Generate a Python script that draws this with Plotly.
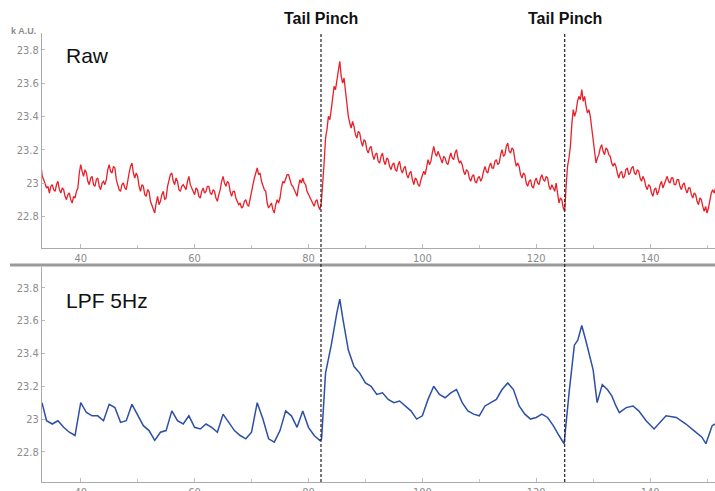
import plotly.graph_objects as go

# ---------------- data ----------------
lpf_x = [33.2, 34, 35, 36, 37, 38, 39, 40, 41, 42, 43, 44, 45, 46, 47, 48, 49, 50, 51, 52,
         53, 54, 55, 56, 57, 58, 59, 60, 61, 62, 63, 64, 65, 66, 67, 68, 69, 70, 71, 72,
         73, 74, 75, 76, 77, 78, 79, 80, 81, 82, 82.3, 83, 84, 85, 85.5, 86, 87, 88, 89, 90,
         91, 92, 93, 94, 95, 96, 97, 98, 99, 100, 101, 102, 103, 104, 105, 106, 107, 108, 109, 110,
         111, 112, 113, 114, 115, 116, 117, 118, 119, 120, 121, 122, 123, 124, 124.9, 125.8, 126.7, 127.3, 128, 128.7,
         129.3, 130, 130.7, 131.6, 132.5, 133.3, 134, 134.6, 135.8, 137, 138, 139.3, 140.7, 141.8, 142.8, 144.6, 146.3, 147.7, 149.1, 149.8,
         150.9, 151.4]
lpf_y = [23.10, 22.99, 22.97, 22.99, 22.95, 22.92, 22.90, 23.10, 23.04, 23.02, 23.02, 22.99, 23.09, 23.07, 22.98, 22.99, 23.09, 23.02, 22.96, 22.93,
         22.87, 22.92, 22.93, 23.05, 22.99, 22.97, 23.02, 22.95, 22.94, 22.97, 22.95, 22.92, 23.03, 22.98, 22.93, 22.90, 22.88, 22.92, 23.10, 23.00,
         22.88, 22.86, 22.93, 23.05, 23.02, 22.95, 23.05, 22.95, 22.90, 22.87, 22.88, 23.28, 23.45, 23.65, 23.73, 23.62, 23.42, 23.32, 23.28, 23.22,
         23.20, 23.15, 23.16, 23.12, 23.10, 23.11, 23.08, 23.05, 23.00, 23.02, 23.12, 23.20, 23.15, 23.13, 23.16, 23.18, 23.10, 23.05, 23.03, 23.02,
         23.08, 23.10, 23.12, 23.18, 23.22, 23.18, 23.08, 23.03, 23.00, 23.01, 23.03, 23.01, 22.96, 22.90, 22.85, 23.17, 23.45, 23.48, 23.57, 23.48,
         23.40, 23.30, 23.10, 23.21, 23.18, 23.14, 23.08, 23.04, 23.07, 23.08, 23.05, 22.99, 22.94, 22.98, 23.02, 23.01, 22.97, 22.93, 22.89, 22.85,
         22.96, 22.97]

raw_start = 33.0
raw_step = 0.25
raw_y = [
    23.11, 23.04, 23.02, 23.00, 22.97, 22.98, 22.94, 22.98, 22.99, 22.96, 22.95, 22.99, 23.01, 22.96, 22.94, 22.97, 22.96, 22.92, 22.90, 22.93,  # 33
    22.94, 22.90, 22.88, 22.92, 22.91, 22.95, 22.97, 23.06, 23.11, 23.07, 23.04, 23.08, 23.06, 23.01, 22.99, 23.03, 23.04, 22.99, 22.98, 23.02,  # 38
    23.03, 22.98, 22.96, 23.00, 23.01, 22.99, 23.02, 23.08, 23.11, 23.07, 23.06, 23.10, 23.09, 23.02, 22.99, 22.96, 22.95, 22.99, 23.00, 22.97,  # 43
    22.96, 23.02, 23.06, 23.10, 23.12, 23.06, 23.03, 23.06, 23.04, 22.98, 22.95, 22.99, 22.98, 22.93, 22.92, 22.96, 22.95, 22.89, 22.87, 22.85,  # 48
    22.82, 22.88, 22.92, 22.87, 22.89, 22.93, 22.95, 22.90, 22.91, 22.98, 23.02, 23.05, 23.06, 23.01, 22.99, 23.03, 23.01, 22.96, 22.95, 22.98,  # 53
    22.99, 22.97, 22.96, 23.01, 23.04, 22.99, 22.97, 22.94, 22.93, 22.97, 22.96, 22.92, 22.91, 22.95, 22.97, 22.94, 22.95, 22.98, 22.98, 22.94,  # 58
    22.93, 22.96, 22.95, 22.91, 22.89, 22.93, 22.96, 23.01, 23.04, 23.00, 22.98, 23.01, 23.00, 22.95, 22.92, 22.95, 22.95, 22.91, 22.89, 22.87,  # 63
    22.88, 22.85, 22.86, 22.89, 22.90, 22.87, 22.86, 22.91, 22.94, 22.99, 23.03, 23.07, 23.09, 23.05, 23.06, 23.01, 22.98, 22.96, 22.95, 22.88,  # 68
    22.85, 22.87, 22.88, 22.84, 22.82, 22.87, 22.90, 22.88, 22.91, 22.97, 23.01, 23.00, 23.03, 23.05, 23.05, 23.01, 22.99, 22.98, 22.96, 22.93,  # 73
    22.92, 22.98, 23.02, 23.00, 23.03, 23.00, 22.99, 22.95, 22.93, 22.91, 22.90, 22.87, 22.86, 22.89, 22.90, 22.86, 22.84, 22.88, 22.98, 23.12,  # 78
    23.27, 23.32, 23.40, 23.38, 23.44, 23.52, 23.58, 23.56, 23.62, 23.66, 23.73, 23.64, 23.60, 23.63, 23.55, 23.48, 23.40, 23.36, 23.33, 23.37,  # 83
    23.34, 23.29, 23.27, 23.31, 23.30, 23.25, 23.22, 23.26, 23.25, 23.20, 23.18, 23.21, 23.22, 23.17, 23.14, 23.17, 23.18, 23.13, 23.12, 23.16,  # 88
    23.18, 23.13, 23.11, 23.15, 23.14, 23.10, 23.08, 23.11, 23.12, 23.08, 23.07, 23.11, 23.13, 23.08, 23.06, 23.09, 23.10, 23.05, 23.03, 23.06,  # 93
    23.07, 23.02, 22.99, 23.03, 23.02, 22.99, 22.98, 23.02, 23.04, 23.07, 23.05, 23.10, 23.14, 23.11, 23.13, 23.18, 23.22, 23.18, 23.16, 23.19,  # 98
    23.17, 23.14, 23.12, 23.16, 23.15, 23.12, 23.11, 23.15, 23.18, 23.15, 23.14, 23.18, 23.20, 23.15, 23.12, 23.13, 23.11, 23.07, 23.05, 23.08,  # 103
    23.07, 23.03, 23.01, 23.04, 23.05, 23.01, 23.00, 23.03, 23.04, 23.01, 23.03, 23.07, 23.10, 23.07, 23.06, 23.10, 23.12, 23.09, 23.09, 23.13,  # 108
    23.14, 23.11, 23.12, 23.17, 23.20, 23.16, 23.17, 23.22, 23.24, 23.19, 23.18, 23.21, 23.20, 23.14, 23.10, 23.12, 23.10, 23.05, 23.03, 23.06,  # 113
    23.05, 23.00, 22.98, 23.01, 23.02, 22.98, 22.97, 23.01, 23.03, 23.00, 22.99, 23.03, 23.05, 23.02, 23.01, 23.04, 23.03, 22.98, 22.96, 22.99,  # 118
    22.97, 22.95, 23.00, 22.93, 22.88, 22.91, 22.90, 22.85, 22.83, 22.98, 23.10, 23.15, 23.22, 23.35, 23.44, 23.40, 23.43, 23.49, 23.52, 23.50,  # 123
    23.56, 23.49, 23.52, 23.46, 23.42, 23.44, 23.40, 23.33, 23.27, 23.18, 23.12, 23.15, 23.17, 23.21, 23.23, 23.19, 23.17, 23.21, 23.20, 23.17,  # 128
    23.16, 23.12, 23.10, 23.12, 23.10, 23.06, 23.03, 23.06, 23.07, 23.03, 23.04, 23.08, 23.09, 23.05, 23.06, 23.09, 23.10, 23.06, 23.05, 23.08,  # 133
    23.07, 23.03, 23.01, 23.04, 23.02, 22.98, 22.96, 22.99, 22.98, 22.94, 22.92, 22.96, 22.97, 22.93, 22.95, 22.99, 23.01, 22.97, 22.99, 23.02,  # 138
    23.04, 23.01, 23.00, 23.03, 23.03, 22.99, 22.99, 23.02, 23.02, 22.98, 22.96, 22.99, 23.00, 22.96, 22.94, 22.97, 22.97, 22.93, 22.91, 22.94,  # 143
    22.93, 22.89, 22.87, 22.91, 22.90, 22.86, 22.83, 22.86, 22.82, 22.85, 22.90, 22.94, 22.96, 22.94, 22.97,                                    # 148
]
raw_x = [raw_start + i * raw_step for i in range(len(raw_y))]

pinch_x = [82.2, 125.0]
pinch_labels = ["Tail Pinch", "Tail Pinch"]
panel_labels = ["Raw", "LPF 5Hz"]
y_unit = "k A.U."

# ---------------- figure ----------------
W, H = 715, 491

def py(px):  # pixel row -> paper y
    return 1 - px / H

def px_x(px):
    return px / W

fig = go.Figure()
fig.add_trace(go.Scatter(x=raw_x, y=raw_y, mode="lines",
                         line=dict(color="#e8202a", width=1.3),
                         xaxis="x", yaxis="y", showlegend=False, hoverinfo="skip"))
fig.add_trace(go.Scatter(x=lpf_x, y=lpf_y, mode="lines",
                         line=dict(color="#2d4fa6", width=1.5),
                         xaxis="x2", yaxis="y2", showlegend=False, hoverinfo="skip"))

tickfont = dict(family="Liberation Sans Narrow, DejaVu Sans Condensed, Arial", size=11, color="#8c8c8c")
axcol = "#a9a9a9"

def xax(anchor):
    return dict(domain=[px_x(42), 1], range=[33.2, 151.4], anchor=anchor, automargin=False,
                showline=True, linecolor=axcol, linewidth=1, showgrid=False, zeroline=False,
                ticks="inside", ticklen=4, tickcolor="#bbbbbb", tick0=0, dtick=20,
                minor=dict(ticks="inside", ticklen=3, tickcolor="#c8c8c8", dtick=10, showgrid=False),
                tickfont=tickfont, fixedrange=True)

def yax(anchor, dom, rng):
    return dict(domain=dom, range=rng, anchor=anchor, automargin=False,
                showline=True, linecolor=axcol, linewidth=1, showgrid=False, zeroline=False,
                ticks="inside", ticklen=3, tickcolor="#bbbbbb", tick0=22.8, dtick=0.2,
                tickfont=tickfont, fixedrange=True)

fig.update_layout(
    width=W, height=H,
    margin=dict(l=0, r=0, t=0, b=0, pad=0, autoexpand=False),
    paper_bgcolor="white", plot_bgcolor="white",
    xaxis=xax("y"),
    yaxis=yax("x", [py(248), py(33)], [22.61, 23.9]),
    xaxis2=xax("y2"),
    yaxis2=yax("x2", [py(482), py(267)], [22.617, 23.926]),
)

shapes = []
# thick separator between panels
shapes.append(dict(type="line", xref="paper", yref="paper", x0=px_x(10), x1=1,
                   y0=py(265), y1=py(265), line=dict(color="#9a9a9a", width=3)))
for xv in pinch_x:
    shapes.append(dict(type="line", xref="x", yref="paper", x0=xv, x1=xv,
                       y0=py(482), y1=py(33), line=dict(color="#222222", width=1.2, dash="3px,2px")))
fig.update_layout(shapes=shapes)

ann = []
for xv, t in zip(pinch_x, pinch_labels):
    ann.append(dict(x=xv, y=py(19), xref="x", yref="paper", text=f"<b>{t}</b>",
                    showarrow=False, xanchor="center", yanchor="middle",
                    font=dict(family="Liberation Sans, Arial", size=16, color="#111111")))
ann.append(dict(x=px_x(64), y=py(55), xref="paper", yref="paper", text=panel_labels[0],
                showarrow=False, xanchor="left", yanchor="middle",
                font=dict(family="Liberation Sans, Arial", size=21, color="#111111")))
ann.append(dict(x=px_x(64), y=py(300), xref="paper", yref="paper", text=panel_labels[1],
                showarrow=False, xanchor="left", yanchor="middle",
                font=dict(family="Liberation Sans, Arial", size=21, color="#111111")))
ann.append(dict(x=px_x(9), y=py(31), xref="paper", yref="paper", text=f"<b>{y_unit}</b>",
                showarrow=False, xanchor="left", yanchor="middle",
                font=dict(family="Liberation Sans Narrow, Arial", size=9, color="#8c8c8c")))
fig.update_layout(annotations=ann)

fig.write_html("out.html", config={"displayModeBar": False},
               post_script="document.body.style.margin='0px';document.body.style.overflow='hidden';")
